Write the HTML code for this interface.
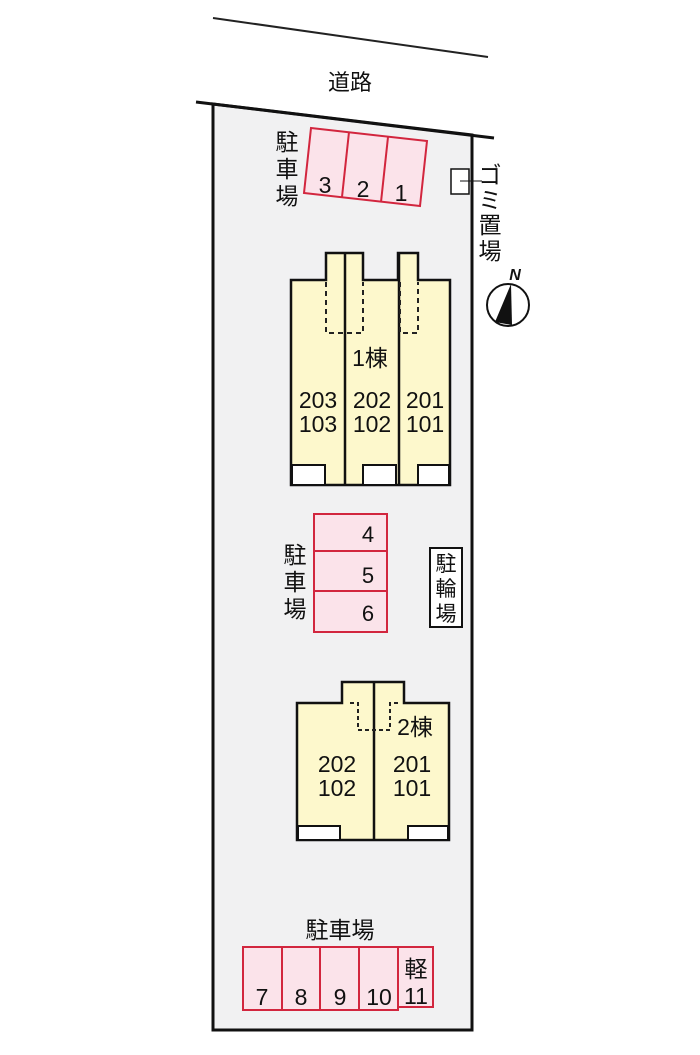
<!DOCTYPE html>
<html><head><meta charset="utf-8"><style>
body{margin:0;background:#fff}
svg text{font-family:"Liberation Sans","Noto Sans CJK JP",sans-serif;fill:#111}
</style></head><body>
<svg width="700" height="1050" viewBox="0 0 700 1050" xmlns="http://www.w3.org/2000/svg">
<line x1="213" y1="18" x2="488" y2="57" stroke="#222" stroke-width="2"/>
<text x="350" y="90" font-size="22" text-anchor="middle">道路</text>
<polygon points="213,104 472,135 472,1030 213,1030" fill="#f1f1f2" stroke="#111" stroke-width="3"/>
<line x1="196" y1="102" x2="494" y2="138" stroke="#111" stroke-width="3"/>
<g stroke="#d2263e" stroke-width="2" fill="#fbe3ea">
<polygon points="311,128 427,141 420,206 304,193"/>
<line x1="349" y1="132" x2="342" y2="197"/>
<line x1="388" y1="137" x2="381" y2="202"/>
</g>
<text x="325" y="193" font-size="23" text-anchor="middle">3</text>
<text x="363" y="197" font-size="23" text-anchor="middle">2</text>
<text x="401" y="201" font-size="23" text-anchor="middle">1</text>
<g font-size="23" text-anchor="middle">
<text x="287" y="150">駐</text><text x="287" y="177">車</text><text x="287" y="204">場</text>
</g>
<rect x="451" y="169" width="18" height="25" fill="#fff" stroke="#111" stroke-width="1.5"/>
<line x1="460" y1="181" x2="482" y2="181" stroke="#111" stroke-width="1"/>
<g font-size="23" text-anchor="middle">
<text x="490" y="183">ゴ</text><text x="490" y="208">ミ</text><text x="490" y="233">置</text><text x="490" y="259">場</text>
</g>
<circle cx="508" cy="305" r="21" fill="#fff" stroke="#111" stroke-width="2"/>
<polygon points="511,284 495,322 512,325" fill="#111"/>
<text x="515" y="280" font-size="16" font-style="italic" font-weight="bold" text-anchor="middle">N</text>
<path d="M291,280 H326 V253 H363 V280 H398 V253 H418 V280 H450 V485 H291 Z" fill="#fdf8cc" stroke="#111" stroke-width="2.5"/>
<g fill="#fff" stroke="#111" stroke-width="2">
<rect x="292" y="465" width="33" height="20"/><rect x="363" y="465" width="33" height="20"/><rect x="418" y="465" width="31" height="20"/>
</g>
<line x1="345" y1="253" x2="345" y2="485" stroke="#111" stroke-width="2.5"/>
<line x1="399" y1="253" x2="399" y2="485" stroke="#111" stroke-width="2.5"/>
<g stroke="#222" stroke-width="2" stroke-dasharray="5,4" fill="none">
<path d="M326,282 V333 H363 V282"/><path d="M400,282 V333 H418 V282"/>
</g>
<text x="370" y="366" font-size="23" text-anchor="middle">1棟</text>
<g font-size="23" text-anchor="middle">
<text x="318" y="408">203</text><text x="318" y="432">103</text>
<text x="372" y="408">202</text><text x="372" y="432">102</text>
<text x="425" y="408">201</text><text x="425" y="432">101</text>
</g>
<g stroke="#d2263e" stroke-width="2" fill="#fbe3ea">
<rect x="314" y="514" width="73" height="118"/>
<line x1="314" y1="551" x2="387" y2="551"/><line x1="314" y1="591" x2="387" y2="591"/>
</g>
<g font-size="22" text-anchor="middle">
<text x="368" y="542">4</text><text x="368" y="583">5</text><text x="368" y="621">6</text>
</g>
<g font-size="23" text-anchor="middle">
<text x="295" y="563">駐</text><text x="295" y="590">車</text><text x="295" y="617">場</text>
</g>
<rect x="430" y="548" width="32" height="79" fill="#fff" stroke="#111" stroke-width="2"/>
<g font-size="21" text-anchor="middle">
<text x="446" y="571">駐</text><text x="446" y="596">輪</text><text x="446" y="621">場</text>
</g>
<path d="M297,703 H342 V682 H404 V703 H449 V840 H297 Z" fill="#fdf8cc" stroke="#111" stroke-width="2.5"/>
<g fill="#fff" stroke="#111" stroke-width="2">
<rect x="298" y="826" width="42" height="14"/><rect x="408" y="826" width="40" height="14"/>
</g>
<line x1="374" y1="682" x2="374" y2="840" stroke="#111" stroke-width="2.5"/>
<path d="M350,703 H358 V730 H390 V703 H398" stroke="#222" stroke-width="2" stroke-dasharray="4,3" fill="none"/>
<text x="415" y="735" font-size="23" text-anchor="middle">2棟</text>
<g font-size="23" text-anchor="middle">
<text x="337" y="772">202</text><text x="337" y="796">102</text>
<text x="412" y="772">201</text><text x="412" y="796">101</text>
</g>
<text x="340" y="938" font-size="23" text-anchor="middle">駐車場</text>
<g stroke="#d2263e" stroke-width="2" fill="#fbe3ea">
<rect x="243" y="947" width="155" height="63"/>
<rect x="398" y="947" width="35" height="60"/>
<line x1="282" y1="947" x2="282" y2="1010"/><line x1="320" y1="947" x2="320" y2="1010"/><line x1="359" y1="947" x2="359" y2="1010"/>
</g>
<g font-size="23" text-anchor="middle">
<text x="262" y="1005">7</text><text x="301" y="1005">8</text><text x="340" y="1005">9</text><text x="379" y="1005">10</text>
<text x="416" y="977">軽</text><text x="416" y="1004">11</text>
</g>
</svg>
</body></html>
